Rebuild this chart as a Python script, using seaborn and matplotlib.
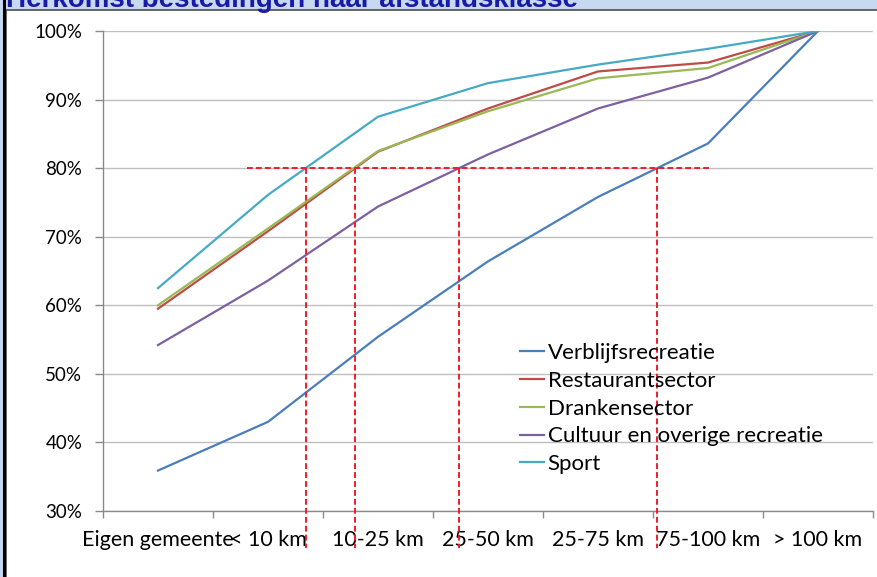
import numpy as np
import pandas as pd
import matplotlib
matplotlib.use("Agg")
import matplotlib.pyplot as plt
from matplotlib.lines import Line2D
from matplotlib.patches import Rectangle
from matplotlib.ticker import FixedLocator, FuncFormatter
import seaborn as sns

# --- data -------------------------------------------------------------
afstandsklassen = ["Eigen gemeente", "< 10 km", "10-25 km", "25-50 km",
                   "25-75 km", "75-100 km", "> 100 km"]
sectoren = ["Verblijfsrecreatie", "Restaurantsector", "Drankensector",
            "Cultuur en overige recreatie", "Sport"]

# cumulative share of spending (%) per distance class
verblijfsrecreatie = [35.9, 43.0, 55.4, 66.4, 75.8, 83.6, 100.0]
restaurantsector = [59.5, 70.8, 82.4, 88.7, 94.1, 95.4, 100.0]
drankensector = [60.0, 71.2, 82.5, 88.3, 93.1, 94.6, 100.0]
cultuur_overig = [54.2, 63.6, 74.4, 82.0, 88.7, 93.2, 100.0]
sport = [62.5, 76.1, 87.5, 92.4, 95.1, 97.4, 100.0]

drempel = 80.0  # reference level for the dashed guide lines
y_ticks = [30, 40, 50, 60, 70, 80, 90, 100]

reeksen = [verblijfsrecreatie, restaurantsector, drankensector,
           cultuur_overig, sport]
kleuren = ["#4a7ebb", "#be4b48", "#98b954", "#7d60a0", "#46aac5"]

df = pd.DataFrame({
    "Afstand": afstandsklassen * len(sectoren),
    "Sector": [s for s in sectoren for _ in afstandsklassen],
    "Aandeel": [v for r in reeksen for v in r],
})

# --- figure -----------------------------------------------------------
W, H = 877, 577
fig = plt.figure(figsize=(W / 100, H / 100), dpi=100, facecolor="#c6d9f1")

# white chart panel with dark frame (behind the axes)
fig.patches.append(Rectangle((6 / W, -0.01), 1.0, (H - 10) / H + 0.01,
                             transform=fig.transFigure, facecolor="white",
                             edgecolor="#4d4d4d", linewidth=1.2, zorder=-2))
fig.lines.append(Line2D([4 / W, 4 / W], [0, 1], transform=fig.transFigure,
                        color="black", linewidth=2.2, zorder=-1))

# title strip at the top edge
fig.text(6 / W, 1 - 7 / H, "Herkomst bestedingen naar afstandsklasse",
         fontsize=20, fontweight="bold", color="#1a1aa8",
         family=["Liberation Sans", "DejaVu Sans"], va="baseline", ha="left")

ax = fig.add_axes([103 / W, 66 / H, 770 / W, 480 / H])
ax.set_facecolor("none")

palette = dict(zip(sectoren, kleuren))
sns.lineplot(data=df, x="Afstand", y="Aandeel", hue="Sector",
             hue_order=sectoren, palette=palette, sort=False,
             errorbar=None, linewidth=1.6, ax=ax, legend=False)

ax.set_xlim(-0.5, len(afstandsklassen) - 0.5)
ax.set_ylim(y_ticks[0], y_ticks[-1])

# dashed guide lines where the curves pass the 80% level
x_pos = np.arange(len(afstandsklassen))
kruisingen = []
for r in [sport, restaurantsector, cultuur_overig, verblijfsrecreatie]:
    kruisingen.append(float(np.interp(drempel, r, x_pos)))
guide = dict(color="#f01c2c", linewidth=1.4, linestyle=(0, (3, 1.6)),
             zorder=5)
ax.plot([0.81, 5.02], [drempel, drempel], **guide)
for xc in kruisingen:
    ax.plot([xc, xc], [drempel, 24.6], clip_on=False, **guide)

# axes styling
grid_c = "#bfbfbf"
axis_c = "#8a8a8a"
ax.yaxis.set_major_locator(FixedLocator(y_ticks))
ax.yaxis.set_major_formatter(FuncFormatter(lambda v, p: f"{v:.0f}%"))
ax.grid(axis="y", color=grid_c, linewidth=1.0)
ax.grid(axis="x", visible=False)
ax.set_axisbelow(True)
for s in ["top", "right"]:
    ax.spines[s].set_visible(False)
for s in ["left", "bottom"]:
    ax.spines[s].set_color(axis_c)
    ax.spines[s].set_linewidth(1.0)

ax.set_xticks(x_pos)
ax.set_xticklabels(afstandsklassen)
ax.set_xticks(np.arange(-0.5, len(afstandsklassen)), minor=True)
ax.tick_params(axis="x", which="major", length=0, pad=14, labelsize=15.5,
               labelcolor="black")
ax.tick_params(axis="x", which="minor", length=5, color=axis_c, width=1)
ax.tick_params(axis="y", length=6, color=axis_c, width=1, pad=9,
               labelsize=13.5, labelcolor="black")
for lab in ax.get_xticklabels() + ax.get_yticklabels():
    lab.set_family(["Lato", "DejaVu Sans"])
ax.set_xlabel("")
ax.set_ylabel("")

# legend
handles = [Line2D([], [], color=c, linewidth=1.6) for c in kleuren]
leg = ax.legend(handles, sectoren, loc="upper left",
                bbox_to_anchor=((520 - 103) / 770, 1 - (343 - 31) / 480),
                frameon=False, handlelength=1.1, handletextpad=0.15,
                labelspacing=0.35, borderpad=0, borderaxespad=0,
                prop={"family": ["Lato", "DejaVu Sans"], "size": 16})

fig.savefig("out.png", dpi=100, facecolor=fig.get_facecolor())
